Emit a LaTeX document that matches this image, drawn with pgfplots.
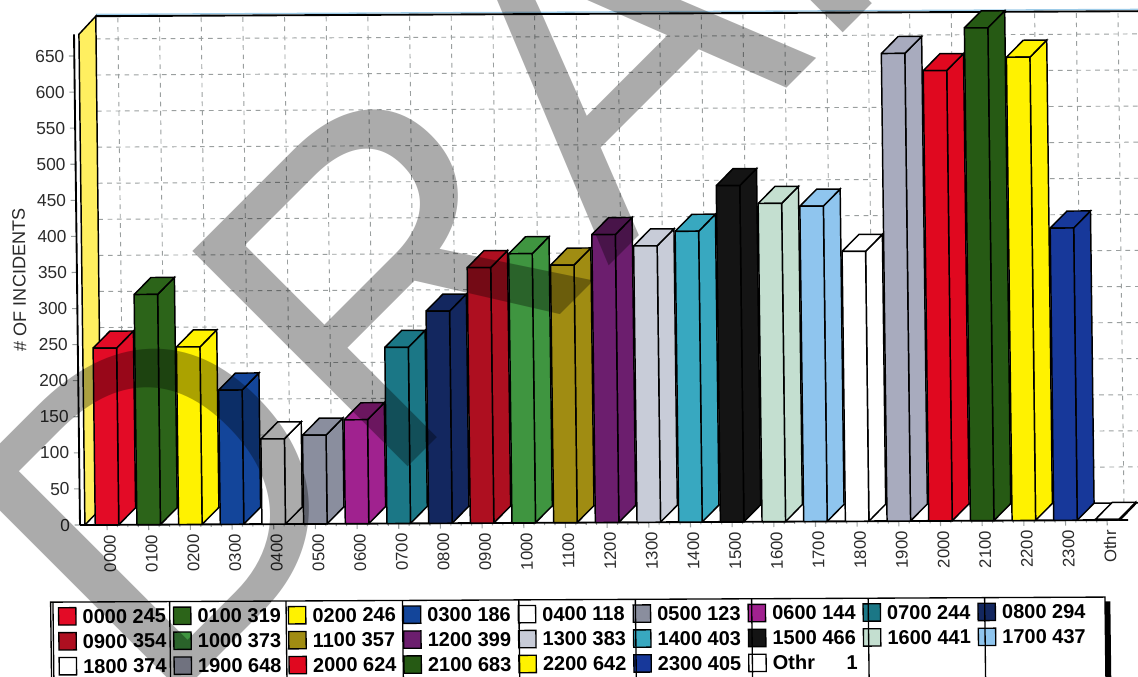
\documentclass[border=0pt]{standalone}
\usepackage{fontspec}
\setmainfont{Liberation Sans}
\usepackage{pgfplots}
\pgfplotsset{compat=1.18}

% bar colours
\definecolor{cRedA}{HTML}{E30B26}
\definecolor{cGreenA}{HTML}{2C6419}
\definecolor{cYellow}{HTML}{FFF200}
\definecolor{cStrip}{HTML}{FFEF60}
\definecolor{cBlueA}{HTML}{13459A}
\definecolor{cGrayA}{HTML}{8A8E9E}
\definecolor{cMagenta}{HTML}{A0228F}
\definecolor{cTeal}{HTML}{1B7786}
\definecolor{cNavy}{HTML}{13275F}
\definecolor{cRedB}{HTML}{AE0F20}
\definecolor{cGreenB}{HTML}{3F9540}
\definecolor{cOlive}{HTML}{A08C12}
\definecolor{cPurple}{HTML}{6C1E6E}
\definecolor{cGrayB}{HTML}{C8CCD8}
\definecolor{cCyan}{HTML}{38A8C0}
\definecolor{cBlack}{HTML}{141414}
\definecolor{cPale}{HTML}{C4DFD0}
\definecolor{cSky}{HTML}{8FC5EE}
\definecolor{cGrayC}{HTML}{A8ABBE}
\definecolor{cRedC}{HTML}{E0081F}
\definecolor{cGreenC}{HTML}{265A14}
\definecolor{cBlueB}{HTML}{17389A}
\definecolor{cGrid}{HTML}{9A9F9F}
\definecolor{cTxt}{HTML}{2A2A2A}
\definecolor{cEdge}{HTML}{9CCBE8}

\def\barw{0.282}
\def\depx{0.408}
\def\depy{23.5}

% one 3d bar: x position, value, colour, legend text
\newcommand{\drawbar}[4]{%
  \pgfmathsetmacro\xa{#1-\barw}%
  \pgfmathsetmacro\xb{#1+\barw}%
  \pgfmathsetmacro\xc{\xa+\depx}%
  \pgfmathsetmacro\xd{\xb+\depx}%
  \pgfmathsetmacro\yt{#2+\depy}%
  \edef\tmp{%
    \noexpand\addplot[forget plot,fill=#3,draw=black,line width=1.1pt]
      coordinates {(\xb,0) (\xd,\depy) (\xd,\yt) (\xb,#2) (\xb,0)};
    \noexpand\addplot[forget plot,fill=#3,draw=black,line width=1.1pt]
      coordinates {(\xa,#2) (\xb,#2) (\xd,\yt) (\xc,\yt) (\xa,#2)};
    \noexpand\addplot[fill=#3,draw=black,line width=1.1pt]
      coordinates {(\xa,0) (\xb,0) (\xb,#2) (\xa,#2) (\xa,0)};
  }\tmp
  \addlegendentry{\makebox[63.7pt][l]{#4}}%
}
% dashed grid on the back wall
\newcommand{\hgrid}[1]{%
  \pgfmathsetmacro\yt{#1+\depy}%
  \edef\tmp{%
    \noexpand\addplot[forget plot,cGrid,dash pattern=on 3.5pt off 3.5pt,line width=.7pt]
      coordinates {(-0.12,\yt) (25,\yt)};
  }\tmp
}
\newcommand{\vgrid}[1]{%
  \pgfmathsetmacro\xa{#1+\depx}%
  \edef\tmp{%
    \noexpand\addplot[forget plot,cGrid,dash pattern=on 3.5pt off 3.5pt,line width=.7pt]
      coordinates {(\xa,\depy) (\xa,705)};
  }\tmp
}

\begin{document}
\begin{tikzpicture}
\path[use as bounding box] (0,0) rectangle (853.5pt,507.75pt);
\clip (0,0) rectangle (853.5pt,507.75pt);
\begin{scope}[shift={(60pt,114pt)},cm={1,0.0048,-0.0122,1,(0,0)}]
\begin{axis}[
  scale only axis,
  width=786pt,height=368pt,
  xmin=-0.648,xmax=24.5,
  ymin=0,ymax=680,
  clip=false,
  axis y line*=left,
  axis x line*=bottom,
  axis line style={black,line width=1.4pt,-},
  xtick={0,1,...,24},
  xticklabels={0000,0100,0200,0300,0400,0500,0600,0700,0800,0900,1000,1100,1200,1300,1400,1500,1600,1700,1800,1900,2000,2100,2200,2300,Othr},
  minor x tick num=3,
  ytick={0,50,...,650},
  tick align=outside,
  major tick length=4pt,
  minor tick length=1.8pt,
  every tick/.style={cGrid,line width=.8pt},
  x tick label style={rotate=90,anchor=east,yshift=-2pt,font=\fontsize{12.6}{14}\selectfont,text=cTxt},
  y tick label style={font=\fontsize{13}{15}\selectfont,text=cTxt},
  /pgf/number format/assume math mode=true,
  ylabel={\# OF INCIDENTS},
  ylabel style={at={(rel axis cs:-0.055,0.5)},anchor=center,font=\fontsize{13.6}{15}\selectfont,text=cTxt},
  legend columns=9,
  legend cell align=left,
  legend image code/.code={%
    \path[draw=none,fill=none] (-4.5pt,-6.75pt) rectangle (18pt,6.75pt);
    \draw[#1,line width=1pt] (0pt,-6.5pt) rectangle (13pt,6.5pt);
  },
  legend style={
    at={(rel axis cs:-0.0272,-0.167)},anchor=north west,
    draw=none,fill=none,
    inner sep=0pt,outer sep=0pt,
    transform shape,
    column sep=0pt,row sep=4.7pt,
    nodes={inner sep=0pt,outer sep=0pt,text height=11pt,text depth=.5pt},
    font=\bfseries\fontsize{15}{16}\selectfont
  }
]
% back wall
\addplot[forget plot,fill=white,draw=none] coordinates {(-0.12,23.5) (25,23.5) (25,705) (-0.12,705) (-0.12,23.5)};
\pgfplotsinvokeforeach{50,100,...,650}{\hgrid{#1}}
\pgfplotsinvokeforeach{0,1,...,24}{\vgrid{#1}}
\addplot[forget plot,cEdge,line width=1pt] coordinates {(-0.12,707.5) (25,707.5)};
\addplot[forget plot,black,line width=1.4pt] coordinates {(-0.12,705) (25,705)};
\addplot[forget plot,black,line width=1.1pt] coordinates {(-0.12,23.5) (25,23.5)};
\addplot[forget plot,black,line width=1.4pt] coordinates {(24.3,0) (24.7,23.5)};
% yellow strip on the left wall
\addplot[forget plot,fill=cStrip,draw=black,line width=1.1pt]
  coordinates {(-0.53,0) (-0.13,23.5) (-0.12,705) (-0.53,680) (-0.53,0)};
% bars
\drawbar{0}{245}{cRedA}{0000 245}
\drawbar{1}{319}{cGreenA}{0100 319}
\drawbar{2}{246}{cYellow}{0200 246}
\drawbar{3}{186}{cBlueA}{0300 186}
\drawbar{4}{118}{white}{0400 118}
\drawbar{5}{123}{cGrayA}{0500 123}
\drawbar{6}{144}{cMagenta}{0600 144}
\drawbar{7}{244}{cTeal}{0700 244}
\drawbar{8}{294}{cNavy}{0800 294}
\drawbar{9}{354}{cRedB}{0900 354}
\drawbar{10}{373}{cGreenB}{1000 373}
\drawbar{11}{357}{cOlive}{1100 357}
\drawbar{12}{399}{cPurple}{1200 399}
\drawbar{13}{383}{cGrayB}{1300 383}
\drawbar{14}{403}{cCyan}{1400 403}
\drawbar{15}{466}{cBlack}{1500 466}
\drawbar{16}{441}{cPale}{1600 441}
\drawbar{17}{437}{cSky}{1700 437}
\drawbar{18}{374}{white}{1800 374}
\drawbar{19}{648}{cGrayC}{1900 648}
\drawbar{20}{624}{cRedC}{2000 624}
\drawbar{21}{683}{cGreenC}{2100 683}
\drawbar{22}{642}{cYellow}{2200 642}
\drawbar{23}{405}{cBlueB}{2300 405}
\drawbar{24}{1}{white}{Othr\hfill 1}
\end{axis}
% legend frame and column rules
\draw[black,line width=1pt] (-22.75pt,-57.75pt) rectangle (768pt,-120pt);
\draw[black,line width=1pt] (-21pt,-57.75pt) -- (-21pt,-120pt);
\foreach \r in {66.5,153.8,241.1,328.4,415.8,503,590.4,677.75}
  \draw[black,line width=1pt] (\r pt,-57.75pt) -- (\r pt,-120pt);
\fill[black] (768pt,-61pt) rectangle (772pt,-120pt);
\end{scope}
% watermark
\node[rotate=45,anchor=base west,inner sep=0pt,text=black,opacity=.33,font=\fontsize{332}{332}\selectfont] at (117.5pt,-31.5pt) {DRAFT};
\end{tikzpicture}
\end{document}
